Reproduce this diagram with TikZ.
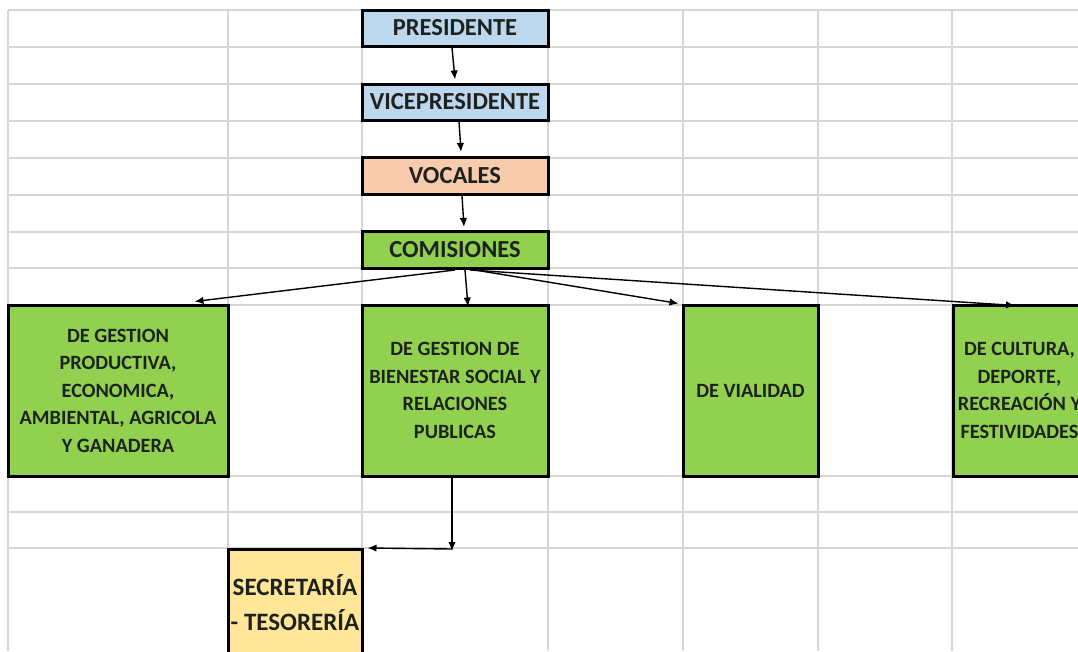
\documentclass[tikz,border=0pt]{standalone}
\usepackage{fontspec}
\setmainfont{Carlito}
\usetikzlibrary{arrows.meta}
\definecolor{gridc}{RGB}{214,214,214}
\definecolor{blueb}{RGB}{189,215,238}
\definecolor{salmon}{RGB}{248,203,173}
\definecolor{greenb}{RGB}{146,208,80}
\definecolor{yellowb}{RGB}{255,230,153}
\definecolor{txt}{RGB}{30,34,30}
\tikzset{
  gridline/.style={draw=gridc, line width=1.4pt},
  topbox/.style={draw=black, line width=3pt, rectangle, minimum width=186pt, minimum height=36pt, inner sep=0pt, text=txt, font=\bfseries\fontsize{24.5}{26}\selectfont},
  combox/.style={draw=black, line width=3pt, rectangle, fill=greenb, minimum height=171pt, inner sep=0pt, text=txt, align=center, font=\bfseries\fontsize{20.3}{27.5}\selectfont},
  arr/.style={draw=black, line width=1.4pt, -{Latex[length=9pt,width=7.5pt]}},
  plain/.style={draw=black, line width=1.4pt}
}
\begin{document}
\begin{tikzpicture}[x=1pt,y=-1pt]
\useasboundingbox (0,0) rectangle (1078,651);
\clip (0,0) rectangle (1078,651);
\fill[white] (0,0) rectangle (1078,651);
% spreadsheet grid
\foreach \x in {8,228,362,548,683,818,952}
  \draw[gridline] (\x,10) -- (\x,651);
\foreach \y in {10,47,84,121,158,195,232,268,305,476,512,548}
  \draw[gridline] (8,\y) -- (1078,\y);
% top chain
\node[topbox, fill=blueb] (pres) at (455,28) {PRESIDENTE};
\node[topbox, fill=blueb] (vice) at (455,102) {VICEPRESIDENTE};
\node[topbox, fill=salmon, minimum height=37pt] (voc) at (455,176) {VOCALES};
\node[topbox, fill=greenb, minimum height=37pt] (com) at (455,250) {COMISIONES};
% commissions
\node[combox, minimum width=220pt] (g1) at (118,390.5) {DE GESTION\\PRODUCTIVA,\\ECONOMICA,\\AMBIENTAL, AGRICOLA\\Y GANADERA};
\node[combox, minimum width=186pt] (g2) at (455,390.5) {DE GESTION DE\\BIENESTAR SOCIAL Y\\RELACIONES\\PUBLICAS};
\node[combox, minimum width=135pt] (g3) at (750.5,390.5) {DE VIALIDAD};
\node[combox, minimum width=132pt, anchor=west] (g4) at (952,390.5) {DE CULTURA,\\DEPORTE,\\RECREACIÓN Y\\FESTIVIDADES};
% secretaria
\node[draw=black, line width=3pt, fill=yellowb, minimum width=134pt, minimum height=140pt, anchor=north, inner sep=0pt] (sec) at (295,548) {};
\node[text=txt, align=center, font=\bfseries\fontsize{25}{35}\selectfont, inner sep=0pt] (sect) at (295,603) {SECRETARÍA\\- TESORERÍA};
% arrows
\draw[arr] ([xshift=-3pt]pres.south) -- ([yshift=3pt]vice.north);
\draw[arr] ([xshift=4pt]vice.south) -- ([xshift=6pt,yshift=4pt]voc.north);
\draw[arr] ([xshift=7pt]voc.south) -- ([xshift=9pt,yshift=3pt]com.north);
\draw[arr] (com.south) -- ([xshift=-35pt,yshift=2pt]g1.north east);
\draw[arr] ([xshift=10pt]com.south) -- ([xshift=13pt,yshift=-3pt]g2.north);
\draw[arr] ([xshift=20pt]com.south) -- ([xshift=-3pt]g3.north west);
\draw[arr] ([xshift=15pt]com.south) -- ([xshift=63pt,yshift=-2pt]g4.north west);
\coordinate (bend) at (452,549);
\draw[arr] (bend |- g2.south) -- ([yshift=-2pt]bend);
\draw[arr] (bend) -- ([xshift=4pt]sec.north east);
\end{tikzpicture}
\end{document}
